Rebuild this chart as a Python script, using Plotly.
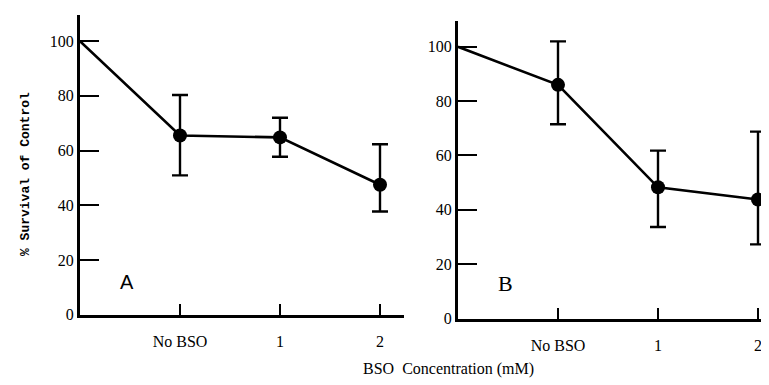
import plotly.graph_objects as go

# ---- data ----
x_pos = [0, 1, 2, 3]
tick_vals = [1, 2, 3]
tick_text = ["No BSO", "1", "2"]

a_mean = [100, 65.5, 64.8, 47.5]
a_err_plus = [0, 14.8, 7.2, 14.8]
a_err_minus = [0, 14.6, 7.1, 9.8]

b_mean = [100, 86.0, 48.3, 43.8]
b_err_plus = [0, 16.0, 13.5, 25.0]
b_err_minus = [0, 14.5, 14.6, 16.5]

y_ticks = [0, 20, 40, 60, 80, 100]

W, H = 769, 385

fig = go.Figure()

def add_panel(mean, ep, em, xa, ya):
    fig.add_trace(go.Scatter(
        x=x_pos, y=mean, xaxis=xa, yaxis=ya,
        mode="lines", line=dict(color="black", width=2.6),
        showlegend=False, hoverinfo="skip"))
    fig.add_trace(go.Scatter(
        x=x_pos[1:], y=mean[1:], xaxis=xa, yaxis=ya,
        mode="markers", marker=dict(color="black", size=14),
        error_y=dict(type="data", symmetric=False,
                     array=ep[1:], arrayminus=em[1:],
                     color="black", thickness=2.4, width=8),
        showlegend=False))

add_panel(a_mean, a_err_plus, a_err_minus, "x", "y")
add_panel(b_mean, b_err_plus, b_err_minus, "x2", "y2")

tick_font = dict(family="Liberation Serif", size=16, color="black")

def xaxis(dom, rng):
    return dict(domain=dom, range=rng, showline=True, linewidth=3,
                linecolor="black", ticks="inside", ticklen=11, tickwidth=2,
                tickcolor="black", tickvals=tick_vals, ticktext=tick_text,
                showgrid=False, zeroline=False, tickfont=tick_font,
                ticklabelstandoff=10, fixedrange=True)

def yaxis(dom, anchor):
    return dict(domain=dom, range=[0, 109.6], showline=True, linewidth=3,
                linecolor="black", ticks="inside", ticklen=19, tickwidth=2,
                tickcolor="black", tickvals=y_ticks, showgrid=False,
                zeroline=False, tickfont=tick_font, anchor=anchor,
                fixedrange=True)

fig.update_layout(
    width=W, height=H, margin=dict(l=0, r=0, t=0, b=0),
    paper_bgcolor="white", plot_bgcolor="white",
    xaxis=dict(xaxis([72 / W, 396 / W], [0, 3.24]), anchor="y"),
    yaxis=yaxis([(H - 314) / H, (H - 7) / H], "x"),
    xaxis2=dict(xaxis([450 / W, 1.0], [0, 3.19]), anchor="y2"),
    yaxis2=yaxis([(H - 318) / H, (H - 13) / H], "x2"),
)

fig.add_annotation(x=0.47, y=12, xref="x", yref="y", text="A",
                   showarrow=False, xanchor="center", yanchor="middle",
                   font=dict(family="Liberation Sans", size=20, color="black"))
fig.add_annotation(x=0.47, y=13, xref="x2", yref="y2", text="B",
                   showarrow=False, xanchor="center", yanchor="middle",
                   font=dict(family="Liberation Serif", size=22, color="black"))

fig.add_annotation(x=17 / W, y=1 - 170 / H, xref="paper", yref="paper",
                   text="<b>% Survival of Control</b>", textangle=-90,
                   showarrow=False, xanchor="center", yanchor="middle",
                   font=dict(family="Liberation Mono", size=13, color="black"))
fig.add_annotation(x=440 / W, y=1 - 370 / H, xref="paper", yref="paper",
                   text="BSO  Concentration (mM)", showarrow=False,
                   xanchor="center", yanchor="middle",
                   font=dict(family="Liberation Serif", size=16, color="black"))

fig.write_html("out.html")
